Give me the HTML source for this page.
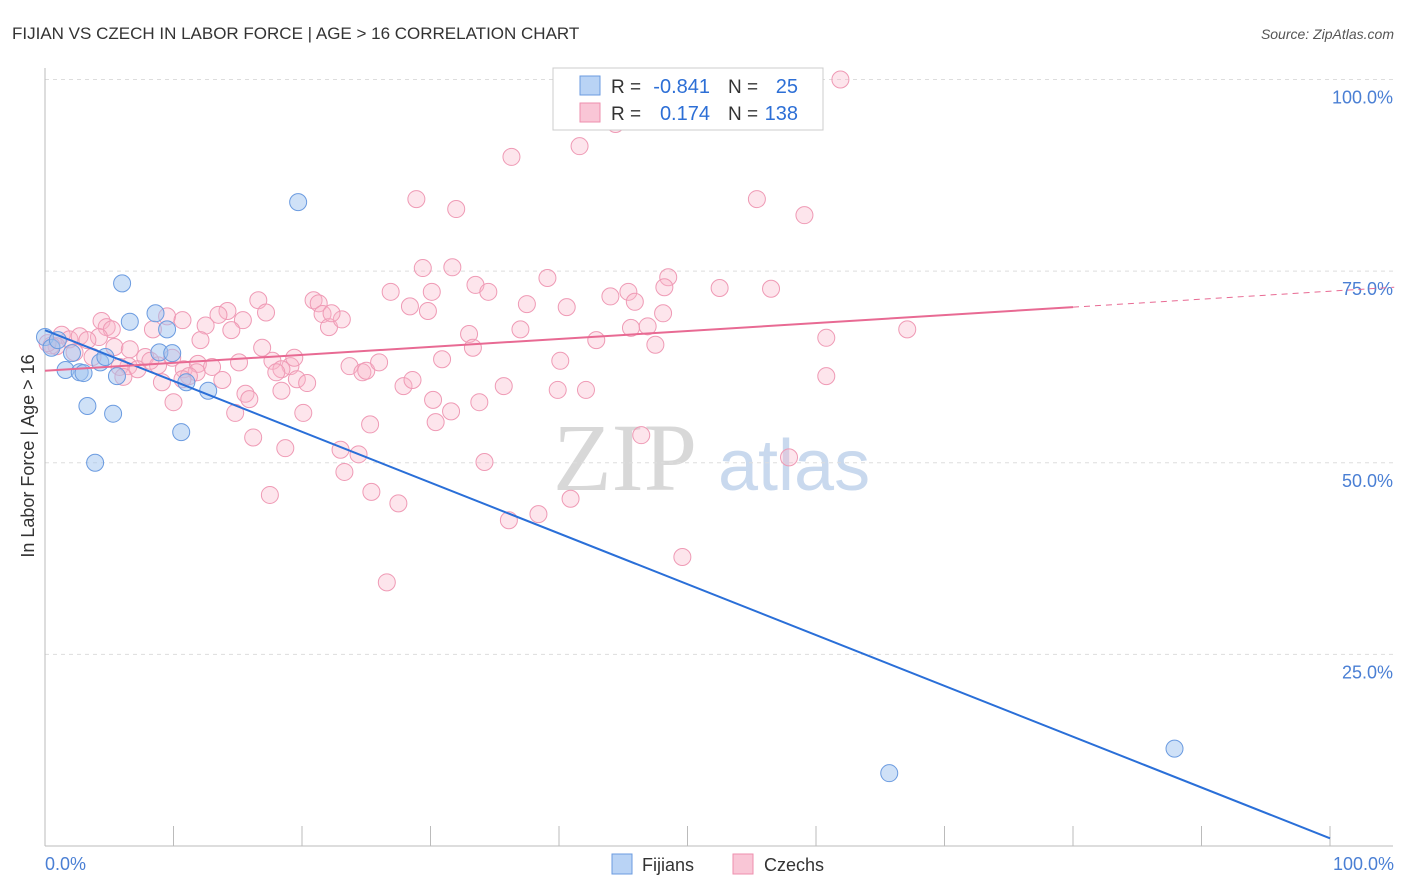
<!DOCTYPE html>
<html><head><meta charset="utf-8"><style>
body{margin:0;background:#fff;font-family:"Liberation Sans",sans-serif;}
svg{display:block}
</style></head><body>
<svg width="1406" height="892">
<text x="12" y="39" font-size="17" fill="#333">FIJIAN VS CZECH IN LABOR FORCE | AGE &gt; 16 CORRELATION CHART</text>
<text x="1394" y="39" font-size="14" fill="#555" font-style="italic" text-anchor="end">Source: ZipAtlas.com</text>
<g>
<text x="553" y="490" font-size="96" fill="#d8d8d8" font-family="Liberation Serif,serif">ZIP</text>
<text x="718" y="490" font-size="72" fill="#c9d9ee">atlas</text>
</g>
<g id="grid"></g>
<g id="axes"></g>
<g id="marks"></g>
<text transform="translate(34,456) rotate(-90)" font-size="18" fill="#333" text-anchor="middle">In Labor Force | Age &gt; 16</text>
<text x="45" y="870" font-size="18" fill="#4a7fd4">0.0%</text>
<text x="1394" y="870" font-size="18" fill="#4a7fd4" text-anchor="end">100.0%</text>
<g>
<rect x="553" y="68" width="270" height="62" fill="#fff" stroke="#ccc"/>
<rect x="580" y="76" width="20" height="19" fill="#b9d3f5" stroke="#6b9be0"/>
<rect x="580" y="103" width="20" height="19" fill="#f9c6d6" stroke="#ee8fae"/>
<text x="611" y="93" font-size="19" fill="#333">R =</text>
<text x="710" y="93" font-size="20" fill="#2d6fd6" text-anchor="end">-0.841</text>
<text x="728" y="93" font-size="19" fill="#333">N =</text>
<text x="798" y="93" font-size="20" fill="#2d6fd6" text-anchor="end">25</text>
<text x="611" y="120" font-size="19" fill="#333">R =</text>
<text x="710" y="120" font-size="20" fill="#2d6fd6" text-anchor="end">0.174</text>
<text x="728" y="120" font-size="19" fill="#333">N =</text>
<text x="798" y="120" font-size="20" fill="#2d6fd6" text-anchor="end">138</text>
</g>
<g>
<rect x="612" y="854" width="20" height="20" fill="#b9d3f5" stroke="#6b9be0"/>
<text x="642" y="871" font-size="18" fill="#333">Fijians</text>
<rect x="733" y="854" width="20" height="20" fill="#f9c6d6" stroke="#ee8fae"/>
<text x="764" y="871" font-size="18" fill="#333">Czechs</text>
</g>
</svg>
<script>
const yTicks=[25,50,75,100];
const yTickLabels=["25.0%","50.0%","75.0%","100.0%"];
const fijianX=[0,0.5,1.0,1.6,2.1,2.7,3.0,3.3,3.9,4.3,4.7,5.3,5.6,6.0,6.6,8.6,8.9,9.5,9.9,10.6,11.0,12.7,19.7,65.7,87.9];
const fijianY=[66.4,65.0,66.0,62.1,64.3,61.8,61.7,57.4,50.0,63.1,63.8,56.4,61.3,73.4,68.4,69.5,64.4,67.4,64.3,54.0,60.5,59.4,84.0,9.5,12.7];
const czechX=[61.9,44.4,41.6,36.3,55.4,28.9,32.0,59.1,29.4,31.7,39.1,48.5,33.5,48.2,26.9,30.1,34.5,52.5,56.5,44.0,45.4,45.9,37.5,40.6,28.4,29.8,16.6,20.9,21.3,14.2,13.5,17.2,9.5,10.7,21.6,22.1,23.1,22.3,12.5,15.4,48.1,45.6,46.9,67.1,60.8,42.9,37.0,33.0,33.3,47.5,14.5,12.1,4.4,4.8,5.2,8.4,4.2,1.3,1.9,2.7,3.3,0.9,0.5,0.2,2.3,3.7,5.4,6.6,7.8,9.9,6.5,5.8,7.2,8.8,10.8,11.9,13.0,15.1,16.9,17.7,19.1,19.4,18.4,19.6,20.4,18.0,11.8,11.2,10.7,13.8,9.1,6.1,8.2,10.0,14.8,15.6,15.9,18.4,20.1,23.7,24.7,25.0,26.0,30.9,40.1,27.9,28.6,30.2,31.6,30.4,33.8,35.7,39.9,42.1,60.8,16.2,18.7,23.0,24.4,23.3,25.3,25.4,27.5,17.5,34.2,36.1,38.4,40.9,46.4,49.6,57.9,26.6];
const czechY=[100.0,94.2,91.3,89.9,84.4,84.4,83.1,82.3,75.4,75.5,74.1,74.2,73.2,72.9,72.3,72.3,72.3,72.8,72.7,71.7,72.3,71.0,70.7,70.3,70.4,69.8,71.2,71.2,70.8,69.8,69.3,69.6,69.1,68.6,69.4,67.7,68.7,69.5,67.9,68.6,69.5,67.6,67.8,67.4,66.3,66.0,67.4,66.8,65.0,65.4,67.3,66.0,68.5,67.7,67.4,67.4,66.4,66.7,66.1,66.5,66.0,65.2,65.3,65.6,64.4,63.8,65.1,64.8,63.8,63.7,62.6,62.5,62.2,62.7,62.2,62.9,62.5,63.1,65.0,63.3,62.6,63.7,62.2,60.9,60.4,61.8,61.8,61.3,60.9,60.8,60.5,61.2,63.3,57.9,56.5,59.0,58.3,59.4,56.5,62.6,61.8,62.0,63.1,63.5,63.3,60.0,60.8,58.2,56.7,55.3,57.9,60.0,59.5,59.5,61.3,53.3,51.9,51.7,51.1,48.8,55.0,46.2,44.7,45.8,50.1,42.5,43.3,45.3,53.6,37.7,50.7,34.4];
const fijianTrend=[67.3,1.0];
const czechTrend=[62.0,70.3,72.9];

const X0=45,X1=1330,Y0=846,Y100=79.5;
const sx=v=>X0+(X1-X0)*v/100;
const sy=v=>Y0-(Y0-Y100)*v/100;
const NS="http://www.w3.org/2000/svg";
function mk(tag,attrs,parent){const e=document.createElementNS(NS,tag);for(const k in attrs)e.setAttribute(k,attrs[k]);parent.appendChild(e);return e;}
const grid=document.getElementById('grid'),axes=document.getElementById('axes'),marks=document.getElementById('marks');
yTicks.forEach((t,i)=>{
  const l=mk('line',{x1:45,x2:1393,y1:sy(t),y2:sy(t),stroke:'#ddd','stroke-dasharray':'4,4'},grid);
  
  
  const tx=mk('text',{x:1393,y:sy(t)+24,'font-size':18,fill:'#4a7fd4','text-anchor':'end'},grid);
  tx.textContent=yTickLabels[i];
  
  
});
const xa=mk('line',{x1:45,x2:1393,y1:846,y2:846,stroke:'#bbb'},axes);


const ya=mk('line',{x1:45,x2:45,y1:68,y2:846,stroke:'#bbb'},axes);


for(let i=1;i<=10;i++){
  const t=mk('line',{x1:sx(i*10),x2:sx(i*10),y1:826,y2:846,stroke:'#bbb'},axes);
  
  
}
czechX.forEach((x,i)=>{
  const c=mk('circle',{cx:sx(x),cy:sy(czechY[i]),r:8.5,fill:'rgba(248,180,200,0.35)',stroke:'#ef9ab5','stroke-width':1},marks);
  
  
});
fijianX.forEach((x,i)=>{
  const c=mk('circle',{cx:sx(x),cy:sy(fijianY[i]),r:8.5,fill:'rgba(160,196,240,0.5)',stroke:'#6b9be0','stroke-width':1},marks);
  
  
});
const bl=mk('line',{x1:sx(0),y1:sy(fijianTrend[0]),x2:sx(100),y2:sy(fijianTrend[1]),stroke:'#2a6fd8','stroke-width':2},marks);


const pl=mk('line',{x1:sx(0),y1:sy(czechTrend[0]),x2:sx(80),y2:sy(czechTrend[1]),stroke:'#e86a93','stroke-width':2},marks);


const pd=mk('line',{x1:sx(80),y1:sy(czechTrend[1]),x2:sx(105),y2:sy(czechTrend[2]),stroke:'#e86a93','stroke-width':1,'stroke-dasharray':'6,5'},marks);


</script>
</body></html>
